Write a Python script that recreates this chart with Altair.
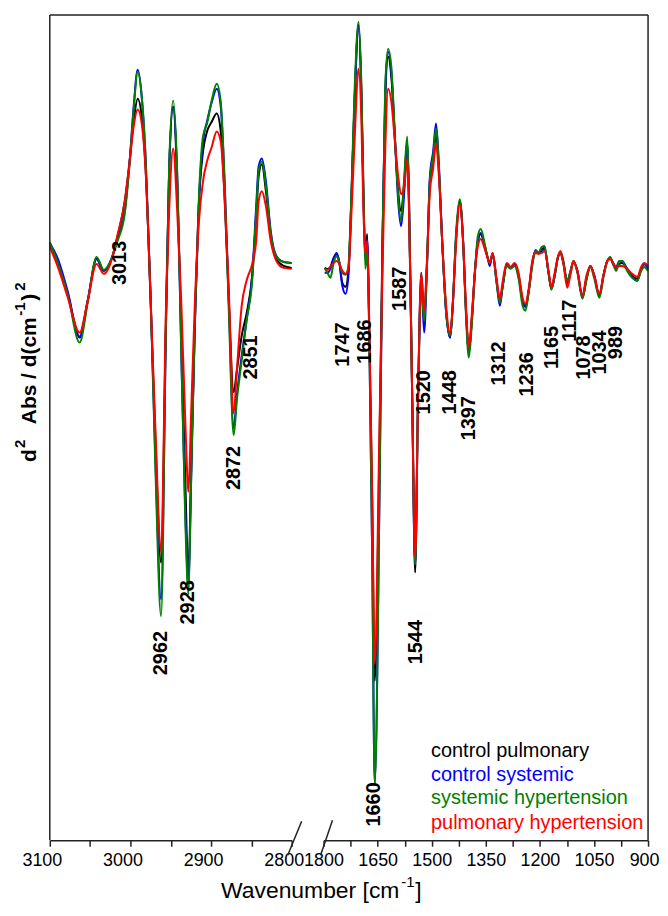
import altair as alt
import pandas as pd

FONT = "Liberation Sans"

series = ["control pulmonary", "control systemic", "systemic hypertension", "pulmonary hypertension"]
colors = ["#000000", "#0000ff", "#008000", "#ff0000"]

# ---- C-H stretching region (3100-2800 cm-1) ----
wn_left = [3100, 3090, 3078, 3063, 3053, 3042, 3033, 3023, 3016, 3007,
           3001, 2996, 2991, 2986, 2981, 2975, 2969, 2962, 2956, 2952,
           2947, 2942, 2937, 2932, 2928, 2925, 2920, 2915, 2910, 2905,
           2899, 2893, 2888, 2883, 2878, 2872, 2868, 2862, 2856, 2849,
           2844, 2841, 2837, 2832, 2826, 2819, 2810, 2800]
ctrl_pulm_left = [22, 3, -27, -72, -35, 7, -5, 8, 30, 65,
                  105, 145, 168, 150, 95, -35, -175, -298, -55, 95,
                  160, 85, -65, -215, -312, -215, -55, 65, 115, 135,
                  145, 153, 135, 65, -35, -127, -105, -70, -48, -10,
                  50, 90, 102, 75, 30, 7, 0, -2]
ctrl_sys_left = [23, 7, -25, -71, -35, 7, -5, 8, 27, 55,
                 105, 160, 197, 170, 105, -30, -195, -335, -65, 95,
                 160, 90, -85, -245, -323, -225, -55, 65, 125, 145,
                 165, 178, 160, 80, -35, -163, -130, -90, -55, -10,
                 60, 100, 108, 85, 35, 10, 4, 3]
sys_hyp_left = [24, 3, -28, -77, -37, 9, -4, 8, 25, 53,
                103, 157, 195, 170, 105, -30, -205, -352, -65, 100,
                166, 95, -85, -255, -330, -225, -55, 70, 130, 143,
                167, 183, 165, 80, -45, -170, -135, -95, -55, -15,
                55, 95, 105, 80, 33, 9, 4, 3]
pulm_hyp_left = [19, -1, -31, -67, -35, 2, -8, 7, 31, 65,
                 105, 140, 157, 143, 93, -33, -165, -287, -45, 55,
                 118, 55, -35, -155, -227, -155, -35, 45, 85, 105,
                 120, 135, 125, 65, -25, -148, -105, -40, -15, 2,
                 25, 65, 75, 60, 25, 5, -2, -3]

# ---- fingerprint region (1800-900 cm-1) ----
wn_right = [1797, 1789, 1781, 1772, 1764, 1756, 1748, 1739, 1731, 1723,
            1714, 1703, 1695, 1690, 1684, 1679, 1673, 1665, 1658, 1645,
            1637, 1629, 1621, 1612, 1601, 1593, 1585, 1576, 1568, 1563,
            1554, 1546, 1538, 1529, 1521, 1513, 1505, 1496, 1488, 1480,
            1471, 1460, 1449, 1441, 1433, 1422, 1413, 1405, 1397, 1389,
            1380, 1372, 1364, 1353, 1344, 1339, 1331, 1320, 1311, 1303,
            1292, 1281, 1270, 1259, 1248, 1240, 1231, 1220, 1212, 1204,
            1195, 1187, 1176, 1168, 1159, 1151, 1143, 1135, 1124, 1115,
            1107, 1096, 1082, 1071, 1060, 1049, 1035, 1024, 1013, 1005,
            997, 988, 980, 972, 958, 944, 930, 919, 911, 900]
ctrl_pulm_right = [-2, -3, -1, 8, 12, 3, -17, -21, -5, 65,
                   165, 242, 175, 85, 10, 32, -65, -235, -417, -185,
                   15, 165, 210, 190, 122, 75, 55, 85, 125, 65,
                   -135, -308, -135, -7, -50, 5, 85, 105, 132, 95,
                   25, -45, -72, -35, 25, 65, 25, -45, -87, -55,
                   -5, 25, 32, 20, 7, 2, 12, -15, -35, -20,
                   2, -2, 2, -10, -35, -41, -25, 5, 15, 13,
                   17, 18, -7, -23, -10, 7, 14, 5, -18, -7,
                   5, -5, -31, -13, 0, -10, -30, -10, 5, 8,
                   2, -3, 2, 3, -3, -10, -13, -3, 2, -1]
ctrl_sys_right = [-7, -7, -3, 7, 13, 3, -20, -28, -10, 65,
                  165, 240, 170, 80, 7, 27, -75, -295, -520, -235,
                  5, 175, 215, 195, 120, 65, 40, 75, 125, 65,
                  -135, -300, -135, -15, -67, 0, 90, 115, 143, 100,
                  25, -47, -72, -35, 25, 65, 25, -45, -85, -55,
                  -5, 25, 33, 20, 7, 0, 12, -17, -40, -20,
                  2, -2, 2, -10, -35, -41, -25, 5, 16, 13,
                  15, 17, -7, -23, -10, 7, 13, 3, -15, -5,
                  4, -5, -32, -13, 0, -10, -30, -10, 5, 8,
                  3, -1, 5, 5, -3, -11, -15, -3, 2, -3]
sys_hyp_right = [-2, -7, -12, 3, 10, 3, -7, -9, 0, 70,
                 175, 245, 180, 90, -3, 15, -75, -295, -520, -235,
                 10, 180, 218, 200, 122, 70, 45, 90, 130, 70,
                 -135, -300, -135, -20, -55, 3, 87, 110, 138, 100,
                 25, -47, -70, -35, 30, 67, 25, -50, -92, -60,
                 -5, 30, 37, 22, 7, 3, 13, -17, -37, -20,
                 0, -3, 0, -13, -40, -45, -27, 3, 15, 13,
                 19, 20, -7, -24, -10, 7, 13, 3, -15, -5,
                 5, -7, -33, -15, -1, -13, -32, -12, 5, 9,
                 2, -5, 5, 5, -5, -12, -15, -5, -1, -5]
pulm_hyp_right = [-3, -4, -1, 3, 5, 2, -5, -8, -3, 50,
                  125, 198, 145, 65, 13, 25, -65, -235, -400, -165,
                  -15, 115, 178, 165, 120, 90, 72, 80, 108, 55,
                  -135, -293, -135, -8, -45, 5, 75, 98, 123, 90,
                  25, -40, -68, -35, 20, 62, 25, -40, -82, -50,
                  -5, 20, 27, 17, 7, 3, 13, -13, -33, -15,
                  3, -1, 3, -7, -32, -38, -23, 7, 13, 12,
                  13, 15, -5, -21, -7, 8, 15, 3, -22, -8,
                  5, -5, -30, -10, 0, -10, -28, -10, 5, 7,
                  3, -2, 0, 0, -3, -8, -11, -1, 3, 0]

# ---- band assignments written on the plot ----
peaks_left = [3013, 2962, 2928, 2872, 2851]
peaks_left_y = [3, -389, -338, -203, -92]
peaks_right = [1747, 1686, 1660, 1587, 1544, 1520, 1448, 1397, 1312, 1236,
               1165, 1117, 1078, 1034, 989]
peaks_right_y = [-79, -76, -541, -23, -378, -127, -127, -153, -98, -109,
                 -82, -55, -92, -87, -77]

ticks_left = [3100, 3050, 3000, 2950, 2900, 2850, 2800]
ticks_right = [1800, 1725, 1650, 1575, 1500, 1425, 1350, 1275, 1200, 1125, 1050, 975, 900]


def long_df(wn, vals_list):
    rows = []
    for s, vals in zip(series, vals_list):
        for w, v in zip(wn, vals):
            rows.append({"w": w, "v": v, "series": s})
    return pd.DataFrame(rows)


df_left = long_df(wn_left, [ctrl_pulm_left, ctrl_sys_left, sys_hyp_left, pulm_hyp_left])
df_right = long_df(wn_right, [ctrl_pulm_right, ctrl_sys_right, sys_hyp_right, pulm_hyp_right])
lab_left = pd.DataFrame({"w": peaks_left, "v": peaks_left_y, "label": [str(p) for p in peaks_left]})
lab_right = pd.DataFrame({"w": peaks_right, "v": peaks_right_y, "label": [str(p) for p in peaks_right]})

W, H = 601, 829
AX = "#222222"

yscale = alt.Scale(domain=[-577, 252], nice=False, zero=False)
Y = alt.Y("v:Q", scale=yscale, axis=None)

axis_common = dict(orient="bottom", grid=False, title=None, format="d",
                   domainColor=AX, domainWidth=1.5, tickColor=AX, tickWidth=1.5,
                   tickSize=6, labelFont=FONT, labelFontSize=18, labelColor="#000000",
                   labelPadding=5, labelFlush=False, labelOverlap=False)

XL = alt.X("w:Q",
           scale=alt.Scale(domain=[3100, 2800], range=[0, 243], nice=False, zero=False),
           axis=alt.Axis(values=ticks_left, labelExpr="datum.value % 100 == 0 ? datum.label : ''",
                         labelOffset=-8, **axis_common))
XR = alt.X("w:Q",
           scale=alt.Scale(domain=[1800, 900], range=[275, 601], nice=False, zero=False),
           axis=alt.Axis(values=ticks_right, labelExpr="datum.value % 150 == 0 ? datum.label : ''",
                         labelOffset={"condition": {"test": "datum.value == 900", "value": -4}, "value": 0},
                         **axis_common))


def panel(df, lab, X):
    layers = []
    for s, c in zip(series, colors):
        layers.append(
            alt.Chart(df).transform_filter(alt.datum.series == s)
            .mark_line(color=c, strokeWidth=2, interpolate="monotone")
            .encode(x=X, y=Y)
        )
    layers.append(
        alt.Chart(lab).mark_text(angle=270, font=FONT, fontSize=20, fontWeight="bold",
                                 color="#000000", align="center", baseline="middle")
        .encode(x=X, y=Y, text="label:N")
    )
    return alt.layer(*layers)


left = panel(df_left, lab_left, XL)
right = panel(df_right, lab_right, XR)

one = pd.DataFrame({"k": [0]})


def rule(x, x2, y, y2, width=1.5):
    return alt.Chart(one).mark_rule(color=AX, strokeWidth=width).encode(
        x=alt.value(x), x2=alt.value(x2), y=alt.value(y), y2=alt.value(y2))


def text(t, x, y, size, color="#000000", weight="normal", angle=0, align="left", baseline="alphabetic"):
    return alt.Chart(one).mark_text(text=t, font=FONT, fontSize=size, fontWeight=weight,
                                    color=color, angle=angle, align=align, baseline=baseline).encode(
        x=alt.value(x), y=alt.value(y))


decor = [
    rule(0, W, 0, 0),          # top frame
    rule(0, 0, 0, H),          # left frame
    rule(W, W, 0, H),          # right frame
    rule(239, 253, 844, 810),  # axis break marks
    rule(272, 284, 844, 809),
]

# x-axis title
decor.append(text("Wavenumber [cm", 172, 887, 23))
decor.append(text("-1", 353, 876, 15))
decor.append(text("]", 367, 887, 23))

# y-axis title (rotated, built from pieces for the superscripts)
decor += [
    text("d", -14, 449, 21, weight="bold", angle=270),
    text("2", -25, 435, 15, weight="bold", angle=270),
    text("Abs / d(cm", -14, 411, 21, weight="bold", angle=270),
    text("-1", -25, 302, 15, weight="bold", angle=270),
    text(")", -14, 287, 21, weight="bold", angle=270),
    text("2", -25, 277, 15, weight="bold", angle=270),
]

# legend
legend_y = [739, 763, 787, 812]
for s, c, ly in zip(series, colors, legend_y):
    decor.append(text(s, 383, ly, 20, color=c, baseline="middle"))

chart = (
    alt.layer(left, right, *decor)
    .resolve_scale(x="independent")
    .resolve_axis(x="independent")
    .properties(width=W, height=H,
                padding={"left": 42, "top": 5, "right": 12, "bottom": 70},
                autosize=alt.AutoSizeParams(type="none"))
    .configure_view(stroke=None)
)

chart.save("out.html", embed_options={"renderer": "svg", "actions": False})
